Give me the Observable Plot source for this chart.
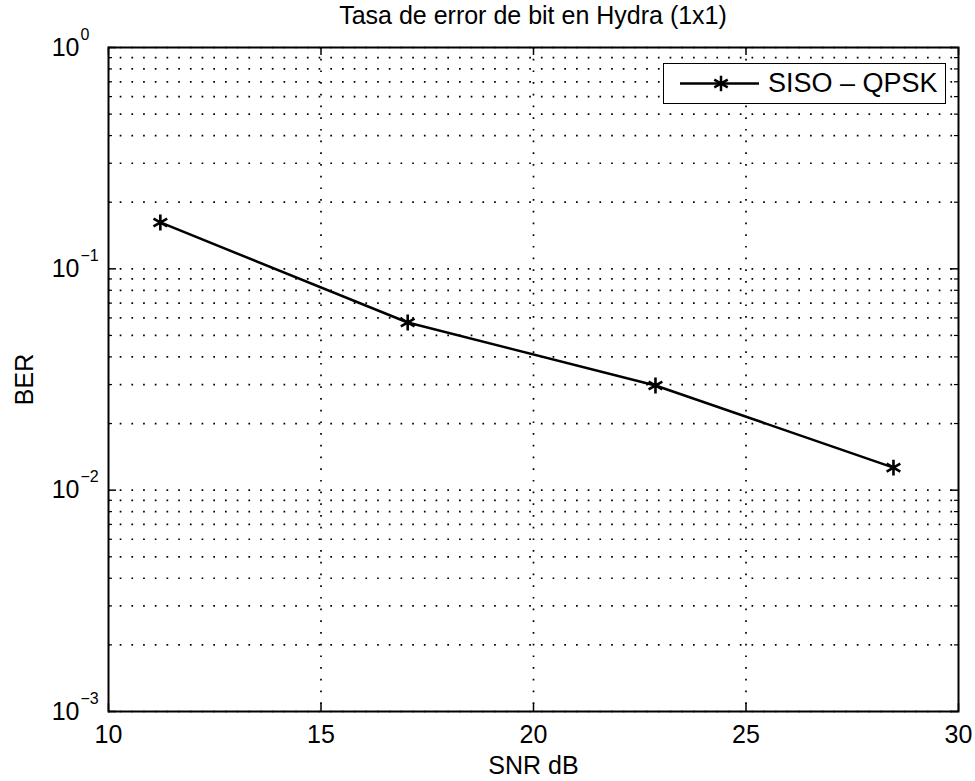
<!DOCTYPE html>
<html>
<head>
<meta charset="utf-8">
<script src="https://cdn.jsdelivr.net/npm/d3@7"></script>
<script src="https://cdn.jsdelivr.net/npm/@observablehq/plot@0.6"></script>
<style>
  html, body { margin: 0; padding: 0; background: white; }
  body { font-family: "Liberation Sans", Arial, Helvetica, sans-serif; width: 975px; height: 781px; overflow: hidden; }
  #wrap { position: relative; width: 975px; height: 781px; }
  #title { height: 30px; line-height: 30px; padding-left: 108px; width: 850px; text-align: center; font-size: 25px; color: #000; white-space: nowrap; }
  #legend { position: absolute; left: 663px; top: 63px; width: 281px; height: 39px; border: 1.5px solid #000; background: #fff; }
  #legend svg { position: absolute; left: 0; top: 0; }
  #legend span { position: absolute; left: 104px; top: 0; line-height: 39px; font-size: 27px; color: #000; white-space: nowrap; }
</style>
</head>
<body>
<div id="wrap">
  <div id="title"></div>
  <div id="chart"></div>
  <div id="legend"></div>
</div>
<script>
// ---- data ----
const titleText = "Tasa de error de bit en Hydra (1x1)";
const xLabel = "SNR dB";
const yLabel = "BER";
const seriesName = "SISO – QPSK";
const snr = [11.22, 17.04, 22.87, 28.47];
const ber = [0.162, 0.0572, 0.0297, 0.01265];
const xTicks = [10, 15, 20, 25, 30];
const yExponents = [0, -1, -2, -3];

// ---- derived ----
const data = snr.map((x, i) => ({x, y: ber[i]}));
const yMajor = yExponents.map(e => Math.pow(10, e));
const yMinor = [];
for (const e of [-3, -2, -1]) for (let k = 2; k <= 9; k++) yMinor.push(k * Math.pow(10, e));
const yGrid = yMajor.concat(yMinor);
const xGrid = xTicks.slice(1, -1);

const W = 975, H = 751;
const mT = 17, mL = 108, mR = 17, mB = 70;
const pw = W - mL - mR, ph = H - mT - mB;
const dotted = {stroke: "#000", strokeWidth: 1.7, strokeDasharray: "1.7,10"};

document.getElementById("title").textContent = titleText;

const chart = Plot.plot({
  width: W, height: H,
  marginTop: mT, marginLeft: mL, marginRight: mR, marginBottom: mB,
  style: {fontFamily: '"Liberation Sans", Arial, Helvetica, sans-serif', background: "white", color: "black", overflow: "visible"},
  x: {domain: [10, 30], axis: null},
  y: {type: "log", domain: [1e-3, 1], axis: null},
  marks: [
    Plot.ruleX(xGrid, dotted),
    Plot.ruleY(yGrid, dotted),
    // inward ticks x (bottom and top)
    Plot.ruleX(xTicks, {stroke: "#000", strokeWidth: 1.5, insetTop: ph - 8}),
    Plot.ruleX(xTicks, {stroke: "#000", strokeWidth: 1.5, insetBottom: ph - 8}),
    // inward ticks y major (left and right)
    Plot.ruleY(yMajor, {stroke: "#000", strokeWidth: 1.5, insetRight: pw - 8}),
    Plot.ruleY(yMajor, {stroke: "#000", strokeWidth: 1.5, insetLeft: pw - 8}),
    // minor y ticks
    Plot.ruleY(yMinor, {stroke: "#000", strokeWidth: 1.2, insetRight: pw - 4}),
    Plot.ruleY(yMinor, {stroke: "#000", strokeWidth: 1.2, insetLeft: pw - 4}),
    Plot.frame({stroke: "#000", strokeWidth: 2}),
    Plot.line(data, {x: "x", y: "y", stroke: "#000", strokeWidth: 2.5}),
    Plot.dot(data, {x: "x", y: "y", symbol: "asterisk", r: 7.5, stroke: "#000", strokeWidth: 2.6}),
    // x tick labels
    Plot.text(xTicks, {x: d => d, frameAnchor: "bottom", lineAnchor: "middle", dy: 23, text: d => String(d), fontSize: 25, fill: "#000"}),
    // y tick labels: base and exponent
    Plot.text(yExponents, {y: e => Math.pow(10, e), frameAnchor: "left", lineAnchor: "middle", dx: -29, textAnchor: "end", text: () => "10", fontSize: 25, fill: "#000"}),
    Plot.text(yExponents, {y: e => Math.pow(10, e), frameAnchor: "left", lineAnchor: "middle", dx: -28, dy: -13, textAnchor: "start", text: e => String(e).replace("-", "\u2212"), fontSize: 16, fill: "#000"}),
    // axis labels
    Plot.text([xLabel], {frameAnchor: "bottom", lineAnchor: "middle", textAnchor: "middle", dy: 54, text: d => d, fontSize: 25, fill: "#000"}),
    Plot.text([yLabel], {frameAnchor: "left", lineAnchor: "middle", textAnchor: "middle", dx: -84, rotate: -90, text: d => d, fontSize: 25, fill: "#000"})
  ]
});
document.getElementById("chart").appendChild(chart);

// legend
const leg = document.getElementById("legend");
const sym = d3.symbol(d3.symbolAsterisk, 170)();
leg.innerHTML = `<svg width="100" height="39"><line x1="16" x2="95" y1="19.5" y2="19.5" stroke="#000" stroke-width="2.5"/>` +
  `<path d="${sym}" transform="translate(57,19.5)" fill="none" stroke="#000" stroke-width="2.5"/></svg><span></span>`;
leg.querySelector("span").textContent = seriesName;
</script>
</body>
</html>
